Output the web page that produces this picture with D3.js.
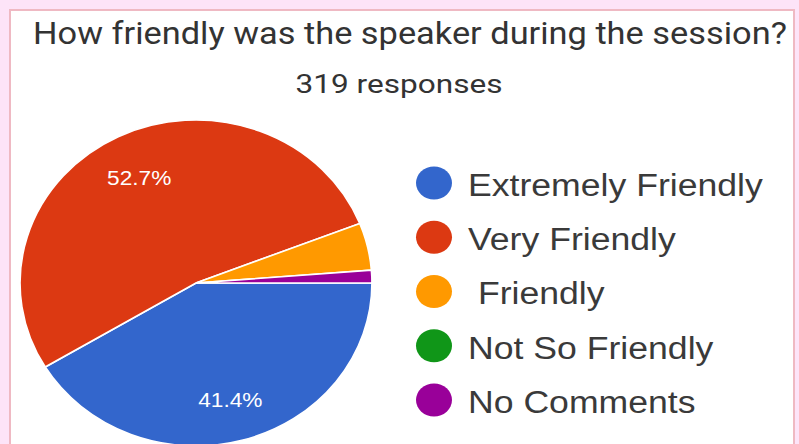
<!DOCTYPE html>
<html>
<head>
<meta charset="utf-8">
<script src="https://cdn.jsdelivr.net/npm/d3@7"></script>
<style>
  html, body { margin: 0; padding: 0; background: #fde4f8; }
  svg { display: block; }
</style>
</head>
<body>
<svg id="chart" width="799" height="444"></svg>
<script>
// data
var categories = ["Extremely Friendly", "Very Friendly", " Friendly", "Not So Friendly", "No Comments"];
var counts = [132, 168, 15, 0, 4];
var colors = ["#3366cc", "#dc3912", "#ff9900", "#109618", "#990099"];
var titleText = "How friendly was the speaker during the session?";
var subtitleText = "319 responses";

var width = 799, height = 444;
var svg = d3.select("#chart");

// white card with a pink border
svg.append("rect")
    .attr("x", 10).attr("y", 10)
    .attr("width", 784).attr("height", 460)
    .attr("fill", "#ffffff")
    .attr("stroke", "#efb9c3")
    .attr("stroke-width", 2);

// stretch a text horizontally so it spans a given width
function fitWidth(sel, w) {
    sel.each(function() {
        var len = this.getComputedTextLength();
        var x = +this.getAttribute("x");
        var k = w / len;
        d3.select(this).attr("transform", "translate(" + x + ",0) scale(" + k + ",1) translate(" + (-x) + ",0)");
    });
}

var title = svg.append("text")
    .attr("x", 410).attr("y", 44)
    .attr("text-anchor", "middle")
    .style("font-family", "Roboto, 'Noto Sans', sans-serif")
    .style("font-size", "31px")
    .attr("fill", "#333333")
    .text(titleText);
fitWidth(title, 754);

var sub = svg.append("text")
    .attr("x", 399).attr("y", 93)
    .attr("text-anchor", "middle")
    .style("font-family", "Roboto, 'Noto Sans', sans-serif")
    .style("font-size", "26px")
    .attr("fill", "#333333")
    .text(subtitleText);
fitWidth(sub, 207);

// pie -- the screenshot is a little wider than it is tall
var cx = 196, cy = 283, r = 163, sx = 176 / 163;
var total = d3.sum(counts);
var rows = categories.map(function(c, i) { return { name: c, value: counts[i], color: colors[i] }; });

var pie = d3.pie()
    .sort(null)
    .value(function(d) { return d.value; })
    .startAngle(Math.PI / 2)
    .endAngle(Math.PI / 2 + 2 * Math.PI);

var arc = d3.arc().innerRadius(0).outerRadius(r);
var labelArc = d3.arc().innerRadius(119).outerRadius(119);

var g = svg.append("g")
    .attr("transform", "translate(" + cx + "," + cy + ") scale(" + sx + ",1)");

var slices = pie(rows).filter(function(d) { return d.data.value > 0; });

g.selectAll("path.slice")
    .data(slices)
    .enter()
    .append("path")
    .attr("class", "slice")
    .attr("d", arc)
    .attr("fill", function(d) { return d.data.color; })
    .attr("stroke", "#ffffff")
    .attr("stroke-width", 1.6);

var fmt = d3.format(".1%");
var lab = svg.append("g")
    .attr("transform", "translate(" + cx + "," + cy + ")");

lab.selectAll("text")
    .data(slices.filter(function(d) { return d.data.value / total > 0.1; }))
    .enter()
    .append("text")
    .attr("x", function(d) { return labelArc.centroid(d)[0] * sx; })
    .attr("y", function(d) { return labelArc.centroid(d)[1] + 9; })
    .attr("text-anchor", "middle")
    .style("font-family", "'Liberation Sans', Arial, sans-serif")
    .style("font-size", "21px")
    .attr("fill", "#ffffff")
    .text(function(d) { return fmt(d.data.value / total); })
    .each(function() {
        var x = +this.getAttribute("x");
        d3.select(this).attr("transform", "translate(" + x + ",0) scale(1.08,1) translate(" + (-x) + ",0)");
    });

// legend
var ly = d3.scalePoint()
    .domain(categories)
    .range([183, 400]);

var leg = svg.append("g").attr("class", "legend");

leg.selectAll("ellipse")
    .data(rows)
    .enter()
    .append("ellipse")
    .attr("cx", 434)
    .attr("cy", function(d) { return ly(d.name); })
    .attr("rx", 18)
    .attr("ry", 16.5)
    .attr("fill", function(d) { return d.color; });

var legText = leg.selectAll("text")
    .data(rows)
    .enter()
    .append("text")
    .attr("x", 468)
    .attr("y", function(d) { return ly(d.name) + 13; })
    .style("font-family", "'Liberation Sans', Arial, sans-serif")
    .style("font-size", "31px")
    .style("white-space", "pre")
    .attr("fill", "#3a3a3a")
    .text(function(d) { return d.name; });

// all legend labels share one stretch, taken from the longest one
var longest = legText.filter(function(d) { return d.name === "Extremely Friendly"; }).node().getComputedTextLength();
var k = 295 / longest;
legText.attr("transform", "translate(468,0) scale(" + k + ",1) translate(-468,0)");
</script>
</body>
</html>
